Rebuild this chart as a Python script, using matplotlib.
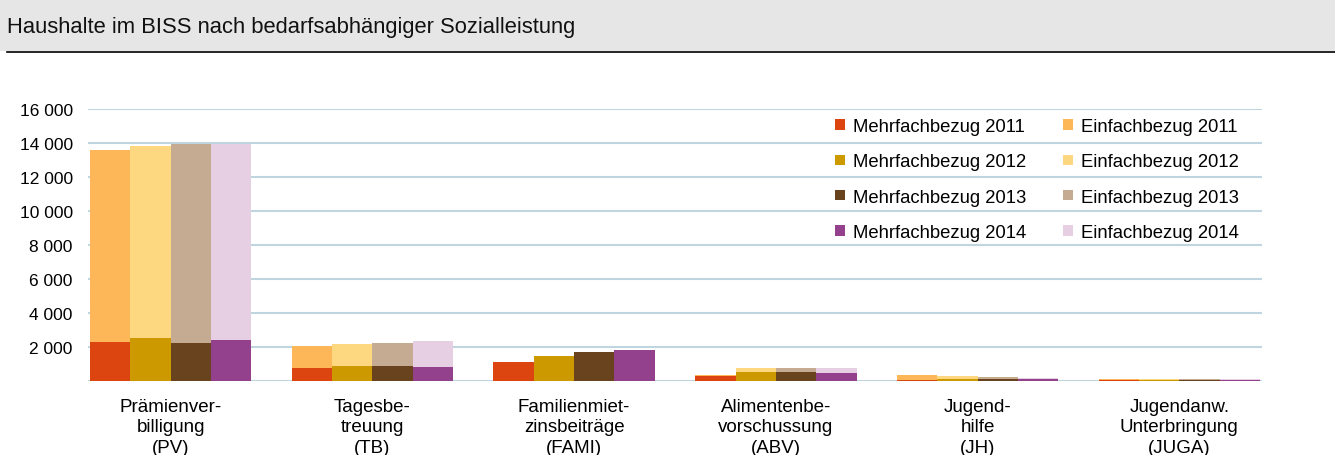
import matplotlib.pyplot as plt
import numpy as np
from matplotlib.patches import Patch

plt.rcParams["font.family"] = ["Liberation Sans", "DejaVu Sans"]

categories = [
    "Prämienver-\nbilligung\n(PV)",
    "Tagesbe-\ntreuung\n(TB)",
    "Familienmiet-\nzinsbeiträge\n(FAMI)",
    "Alimentenbe-\nvorschussung\n(ABV)",
    "Jugend-\nhilfe\n(JH)",
    "Jugendanw.\nUnterbringung\n(JUGA)",
]
years = ["2011", "2012", "2013", "2014"]

# Haushalte mit Mehrfachbezug, je Jahr (Werte pro Kategorie)
mehrfach_2011 = [2270, 750, 1140, 270, 60, 80]
mehrfach_2012 = [2550, 860, 1470, 510, 120, 70]
mehrfach_2013 = [2250, 860, 1710, 510, 100, 70]
mehrfach_2014 = [2410, 840, 1820, 450, 100, 50]

# Haushalte mit Einfachbezug (gestapelt oben drauf)
einfach_2011 = [11320, 1310, 0, 80, 290, 60]
einfach_2012 = [11250, 1320, 0, 250, 170, 50]
einfach_2013 = [11690, 1360, 0, 270, 150, 50]
einfach_2014 = [11540, 1510, 0, 310, 100, 60]

yticks = [2000, 4000, 6000, 8000, 10000, 12000, 14000, 16000]

mehrfach = [mehrfach_2011, mehrfach_2012, mehrfach_2013, mehrfach_2014]
einfach = [einfach_2011, einfach_2012, einfach_2013, einfach_2014]
col_m = ["#DC4510", "#CC9A00", "#69431E", "#93408D"]
col_e = ["#FDB758", "#FED880", "#C5AB92", "#E6CFE2"]

W, H = 1335, 456
fig = plt.figure(figsize=(W / 100, H / 100), dpi=100)

# grey title band with a dark rule underneath
fig.patches.append(plt.Rectangle((0, 1 - 52 / H), 1, 52 / H, transform=fig.transFigure,
                                 facecolor="#E6E6E6", edgecolor="none", zorder=0))
fig.lines.append(plt.Line2D([7 / W, 1], [1 - 53 / H] * 2, transform=fig.transFigure,
                            color="black", linewidth=1.2))
fig.text(7 / W, 1 - 28 / H, "Haushalte im BISS nach bedarfsabhängiger Sozialleistung",
         fontsize=15.8, va="center", ha="left", color="#111111")

ax = fig.add_axes([88 / W, 1 - 382 / H, (1262 - 88) / W, (382 - 110) / H])

x = np.arange(len(categories))
bw = 0.2
for i in range(4):
    pos = x - 0.3 + i * bw
    ax.bar(pos, mehrfach[i], width=bw, color=col_m[i], edgecolor="none", zorder=3)
    ax.bar(pos, einfach[i], width=bw, bottom=mehrfach[i], color=col_e[i],
           edgecolor="none", zorder=3)

ax.set_xlim(-0.41, 5.41)
ax.set_ylim(0, 16000)
ax.set_yticks([0] + yticks)
ax.set_yticklabels([""] + [f"{v:,}".replace(",", " ") for v in yticks], fontsize=12.5)
ax.grid(axis="y", color="#BFD5E0", linewidth=1.5, zorder=0)
ax.set_xticks(x)
ax.set_xticklabels(categories, fontsize=13.5, linespacing=1.28)
ax.tick_params(length=0)
ax.tick_params(axis="x", pad=12)
ax.tick_params(axis="y", pad=11)
for s in ax.spines.values():
    s.set_visible(False)

handles = [Patch(facecolor=c, edgecolor="none") for c in col_m + col_e]
labels = [f"Mehrfachbezug {y}" for y in years] + [f"Einfachbezug {y}" for y in years]
ax.legend(handles, labels, ncol=2, loc="upper left", bbox_to_anchor=(740 / 1174, 1.0 - 2 / 272),
          frameon=False, fontsize=13.3, handlelength=0.52, handleheight=0.52,
          handletextpad=0.45, columnspacing=1.97, labelspacing=0.98, borderaxespad=0)

fig.savefig("out.png", dpi=100, facecolor="white")
